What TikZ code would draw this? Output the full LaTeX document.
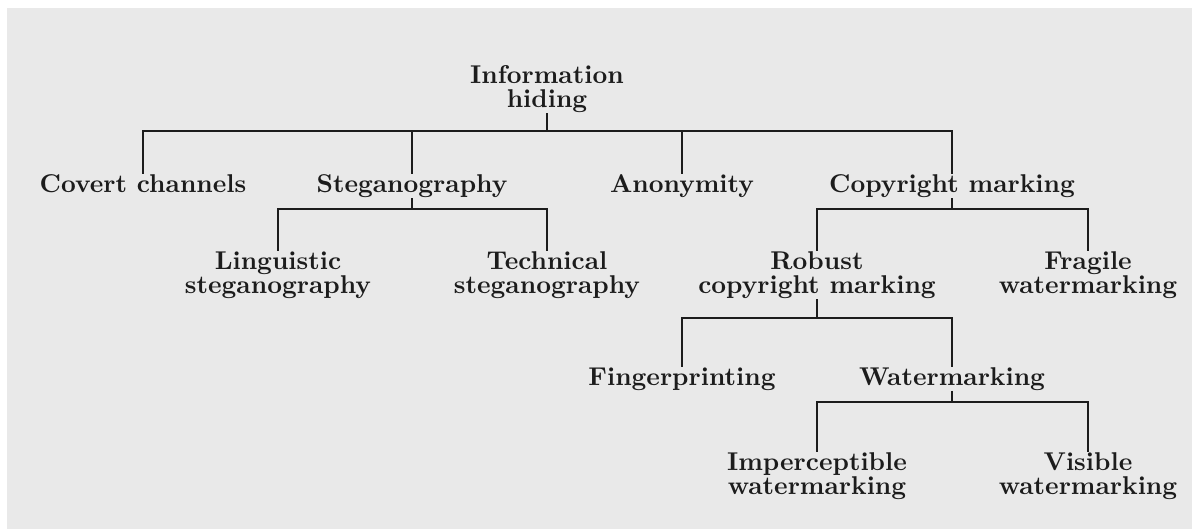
\documentclass[tikz,border=0pt]{standalone}
\usepackage{tikz}
\usetikzlibrary{positioning}

\definecolor{panelgray}{RGB}{233,233,233}
\definecolor{inkgray}{RGB}{28,28,28}

\begin{document}
\begin{tikzpicture}[
    x=0.42pt, y=-0.42pt,
    termstyle/.style={inner sep=0pt, anchor=north, align=center, text=inkgray,
        font=\bfseries\fontsize{10.8}{10.1}\selectfont},
    linkstyle/.style={draw=inkgray, line width=0.8pt}
]

\useasboundingbox (0,0) rectangle (1192,529);
\fill[white] (0,0) rectangle (1192,529);
\fill[panelgray] (7,8) rectangle (1192,529);

\node[termstyle] (info) at (547,65) {Information\\hiding};

\node[termstyle] (covert) at (143,174) {Covert channels};
\node[termstyle] (steg) at (412,174) {Steganography};
\node[termstyle] (anon) at (682,174) {Anonymity};
\node[termstyle] (copy) at (952,174) {Copyright marking};

\coordinate (j0) at (547,131);
\draw[linkstyle] (info.south) -- (j0);
\draw[linkstyle] (j0) -| (covert.north);
\draw[linkstyle] (j0) -| (steg.north);
\draw[linkstyle] (j0) -| (anon.north);
\draw[linkstyle] (j0) -| (copy.north);

\node[termstyle] (ling) at (278,251) {Linguistic\\steganography};
\node[termstyle] (tech) at (547,251) {Technical\\steganography};

\coordinate (j1) at (412,209);
\draw[linkstyle] (steg.south) -- (j1);
\draw[linkstyle] (j1) -| (ling.north);
\draw[linkstyle] (j1) -| (tech.north);

\node[termstyle] (robust) at (817,251) {Robust\\copyright marking};
\node[termstyle] (fragile) at (1088,251) {Fragile\\watermarking};

\coordinate (j2) at (952,209);
\draw[linkstyle] (copy.south) -- (j2);
\draw[linkstyle] (j2) -| (robust.north);
\draw[linkstyle] (j2) -| (fragile.north);

\node[termstyle] (finger) at (682,367) {Fingerprinting};
\node[termstyle] (water) at (952,367) {Watermarking};

\coordinate (j3) at (817,318);
\draw[linkstyle] (robust.south) -- (j3);
\draw[linkstyle] (j3) -| (finger.north);
\draw[linkstyle] (j3) -| (water.north);

\node[termstyle] (imperc) at (817,452) {Imperceptible\\watermarking};
\node[termstyle] (visible) at (1088,452) {Visible\\watermarking};

\coordinate (j4) at (952,402);
\draw[linkstyle] (water.south) -- (j4);
\draw[linkstyle] (j4) -| (imperc.north);
\draw[linkstyle] (j4) -| (visible.north);

\end{tikzpicture}
\end{document}
